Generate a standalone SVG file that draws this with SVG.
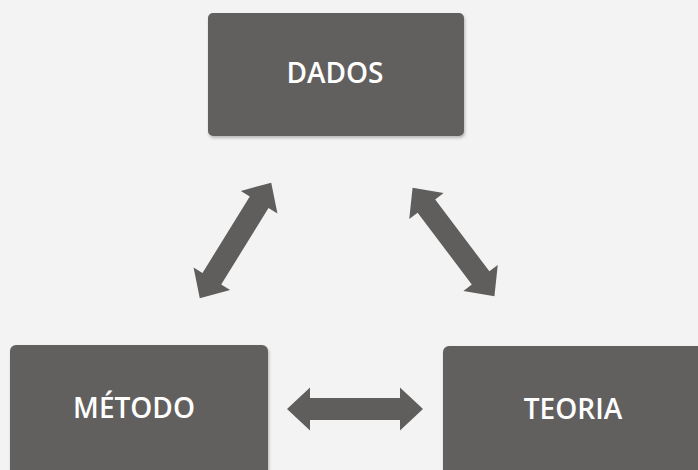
<svg xmlns="http://www.w3.org/2000/svg" width="698" height="470" viewBox="0 0 698 470">
<defs>
<style>
.box{fill:#62605f;filter:url(#sh)}
.lbl{fill:#ffffff;font-family:"Open Sans",Lato,sans-serif;font-weight:600;font-size:28px;text-anchor:middle}
.arr{fill:#5f5e5d}
</style>
<filter id="sh" x="-5%" y="-5%" width="110%" height="115%">
<feDropShadow dx="1" dy="2" stdDeviation="1.5" flood-color="#000" flood-opacity="0.25"/>
</filter>
<path id="dbl" d="M-68,0 L-45,-21.5 L-45,-11 L45,-11 L45,-21.5 L68,0 L45,21.5 L45,11 L-45,11 L-45,21.5 Z"/>
</defs>
<rect width="698" height="470" fill="#f3f3f3"/>
<g id="dados">
<rect class="box" x="208" y="13" width="256" height="123" rx="5"/>
<text class="lbl" x="335" y="83">DADOS</text>
</g>
<g id="metodo">
<rect class="box" x="10" y="345" width="258" height="135" rx="6"/>
<text class="lbl" x="134" y="418">MÉTODO</text>
</g>
<g id="teoria">
<rect class="box" x="443" y="346" width="270" height="135" rx="6"/>
<text class="lbl" x="573" y="419">TEORIA</text>
</g>
<g id="connectors" class="arr">
<use href="#dbl" transform="translate(235.5,240.5) rotate(-58.3)"/>
<use href="#dbl" transform="translate(453.5,242) rotate(53)"/>
<use href="#dbl" transform="translate(355,409)"/>
</g>
</svg>
